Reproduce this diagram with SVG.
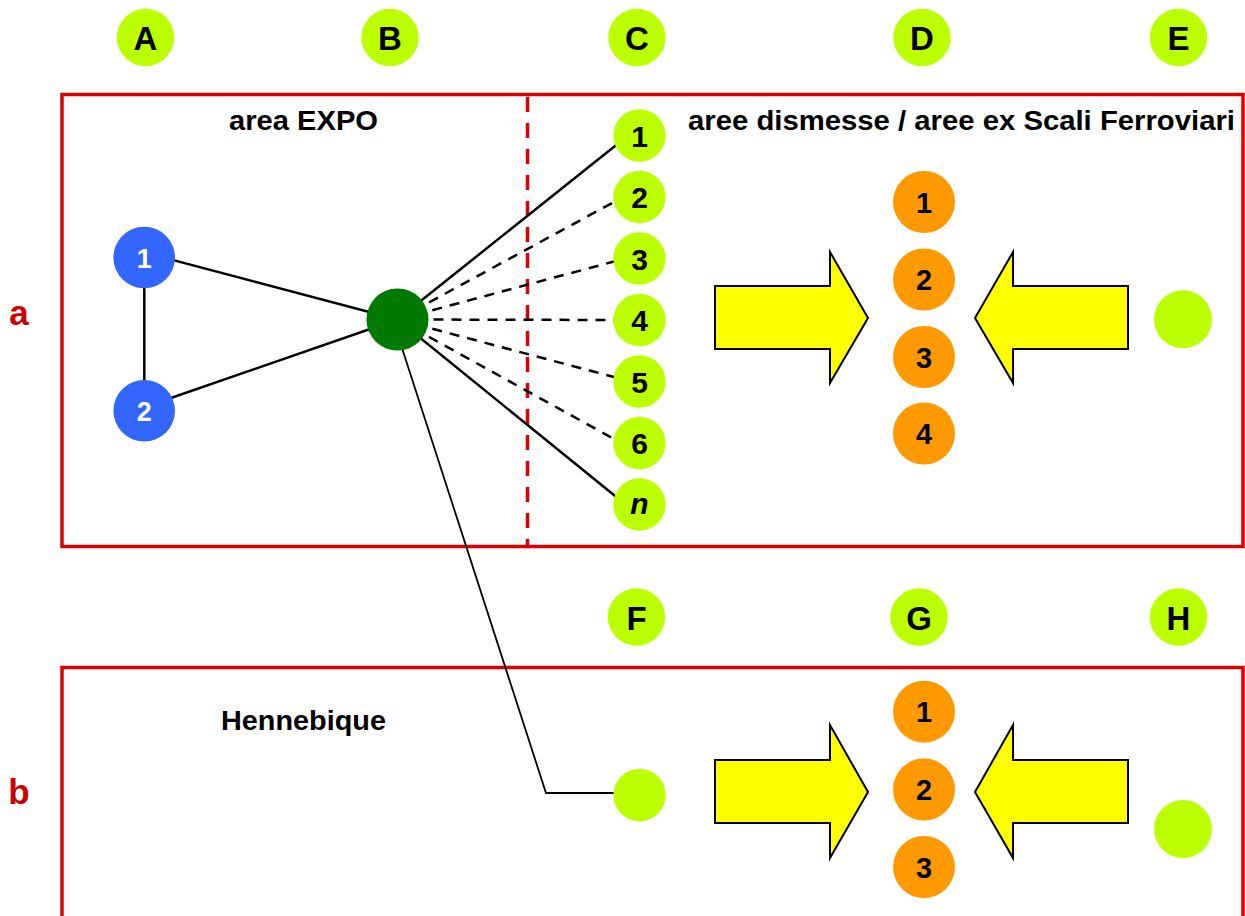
<svg xmlns="http://www.w3.org/2000/svg" width="1245" height="916" viewBox="0 0 1245 916">
<style>
.box{fill:none;stroke:#dd0000;stroke-width:3.5}
.lime{fill:#bbff00}
.org{fill:#ff9900}
.blue{fill:#3366ff}
.lbl{font-family:"Liberation Sans",Arial,sans-serif;font-weight:bold;text-anchor:middle;fill:#000}
.big{font-size:33px}
.num{font-size:30px}
.onum{font-size:29px}
.wnum{font-size:27px;fill:#fff}
.title{font-family:"Liberation Sans",Arial,sans-serif;font-weight:bold;font-size:28px;fill:#000}
.row{font-family:"Liberation Sans",Arial,sans-serif;font-weight:bold;font-size:35px;fill:#cc0000;text-anchor:middle}
.ln{fill:none;stroke:#000;stroke-width:2.5}
.dash{fill:none;stroke:#000;stroke-width:2.5;stroke-dasharray:10 8}
.arrow{fill:#ffff00;stroke:#000;stroke-width:2;stroke-linejoin:miter}
</style>

<g id="frames">
<rect class="box" x="62" y="94.5" width="1181" height="452"/>
<rect class="box" x="62" y="667.5" width="1181" height="300"/>
<line x1="527.5" y1="97" x2="527.5" y2="545" stroke="#dd0000" stroke-width="3.5" stroke-dasharray="15 11"/>
</g>

<g id="row-labels">
<text class="row" x="19" y="325">a</text>
<text class="row" x="19" y="804">b</text>
</g>

<g id="titles">
<text class="title" x="229" y="130" textLength="149" lengthAdjust="spacingAndGlyphs">area EXPO</text>
<text class="title" x="688" y="130" textLength="547" lengthAdjust="spacingAndGlyphs">aree dismesse / aree ex Scali Ferroviari</text>
<text class="title" x="221" y="730" textLength="165" lengthAdjust="spacingAndGlyphs">Hennebique</text>
</g>

<g id="connectors">
<line class="ln" x1="144.3" y1="258" x2="144.3" y2="411"/>
<line class="ln" x1="160" y1="256.6" x2="397.5" y2="319.5"/>
<line class="ln" x1="160" y1="401.8" x2="397.5" y2="319.5"/>
<line class="ln" x1="397.5" y1="319.5" x2="625" y2="138"/>
<line class="dash" x1="397.5" y1="319.5" x2="614" y2="202"/>
<line class="dash" x1="397.5" y1="319.5" x2="614" y2="261.5"/>
<line class="dash" x1="397.5" y1="319.5" x2="614" y2="320"/>
<line class="dash" x1="397.5" y1="319.5" x2="614" y2="377"/>
<line class="dash" x1="397.5" y1="319.5" x2="614" y2="439"/>
<line class="ln" x1="397.5" y1="319.5" x2="625" y2="504"/>
<polyline fill="none" stroke="#000" stroke-width="1.8" points="401,345 546,793 614,793"/>
</g>

<g id="node-A"><circle class="lime" cx="145.5" cy="37.5" r="28.7"/><text class="lbl big" x="145.5" y="50">A</text></g>
<g id="node-B"><circle class="lime" cx="390" cy="37.5" r="28.7"/><text class="lbl big" x="390" y="50">B</text></g>
<g id="node-C"><circle class="lime" cx="637" cy="37.5" r="28.7"/><text class="lbl big" x="637" y="50">C</text></g>
<g id="node-D"><circle class="lime" cx="922" cy="37.5" r="28.7"/><text class="lbl big" x="922" y="50">D</text></g>
<g id="node-E"><circle class="lime" cx="1178.5" cy="37.5" r="28.7"/><text class="lbl big" x="1178.5" y="50">E</text></g>
<g id="node-F"><circle class="lime" cx="636.5" cy="617" r="28.7"/><text class="lbl big" x="636.5" y="629.5">F</text></g>
<g id="node-G"><circle class="lime" cx="919" cy="617" r="28.7"/><text class="lbl big" x="919" y="629.5">G</text></g>
<g id="node-H"><circle class="lime" cx="1178.5" cy="617" r="28.7"/><text class="lbl big" x="1178.5" y="629.5">H</text></g>

<g id="expo-1"><circle class="blue" cx="144.2" cy="257.5" r="30.8"/><text class="lbl wnum" x="144.2" y="267.5">1</text></g>
<g id="expo-2"><circle class="blue" cx="144.2" cy="410.8" r="30.8"/><text class="lbl wnum" x="144.2" y="420.8">2</text></g>
<g id="hub"><circle fill="#007a00" cx="397.5" cy="319.5" r="31"/></g>

<g id="c-1"><circle class="lime" cx="639.5" cy="135.5" r="26.2"/><text class="lbl num" x="639.5" y="146.5">1</text></g>
<g id="c-2"><circle class="lime" cx="639.5" cy="197" r="26.2"/><text class="lbl num" x="639.5" y="208">2</text></g>
<g id="c-3"><circle class="lime" cx="639.5" cy="258.5" r="26.2"/><text class="lbl num" x="639.5" y="269.5">3</text></g>
<g id="c-4"><circle class="lime" cx="639.5" cy="320" r="26.2"/><text class="lbl num" x="639.5" y="331">4</text></g>
<g id="c-5"><circle class="lime" cx="639.5" cy="381.5" r="26.2"/><text class="lbl num" x="639.5" y="392.5">5</text></g>
<g id="c-6"><circle class="lime" cx="639.5" cy="443" r="26.2"/><text class="lbl num" x="639.5" y="454">6</text></g>
<g id="c-n"><circle class="lime" cx="639.5" cy="504.5" r="26.2"/><text class="lbl num" x="639.5" y="514" font-style="italic" font-size="32">n</text></g>

<g id="d-1"><circle class="org" cx="924" cy="202" r="31"/><text class="lbl onum" x="924" y="212.5">1</text></g>
<g id="d-2"><circle class="org" cx="924" cy="279.5" r="31"/><text class="lbl onum" x="924" y="290">2</text></g>
<g id="d-3"><circle class="org" cx="924" cy="357" r="31"/><text class="lbl onum" x="924" y="367.5">3</text></g>
<g id="d-4"><circle class="org" cx="924" cy="433.5" r="31"/><text class="lbl onum" x="924" y="444">4</text></g>

<g id="arrows-a">
<polygon class="arrow" points="715,286 830,286 830,252 868,318 830,383 830,349 715,349"/>
<polygon class="arrow" points="1128,286 1013,286 1013,252 975,318 1013,383 1013,349 1128,349"/>
</g>
<g id="e-node"><circle class="lime" cx="1183" cy="319.3" r="29"/></g>

<g id="f-node"><circle class="lime" cx="639.6" cy="795" r="26.2"/></g>
<g id="g-1"><circle class="org" cx="924" cy="711.7" r="31"/><text class="lbl onum" x="924" y="722.2">1</text></g>
<g id="g-2"><circle class="org" cx="924" cy="789.5" r="31"/><text class="lbl onum" x="924" y="800">2</text></g>
<g id="g-3"><circle class="org" cx="924" cy="867" r="31"/><text class="lbl onum" x="924" y="877.5">3</text></g>
<g id="arrows-b">
<polygon class="arrow" points="715,760 830,760 830,725 868,792 830,858 830,823 715,823"/>
<polygon class="arrow" points="1128,760 1013,760 1013,725 975,792 1013,858 1013,823 1128,823"/>
</g>
<g id="h-node"><circle class="lime" cx="1183" cy="829" r="29"/></g>
</svg>
